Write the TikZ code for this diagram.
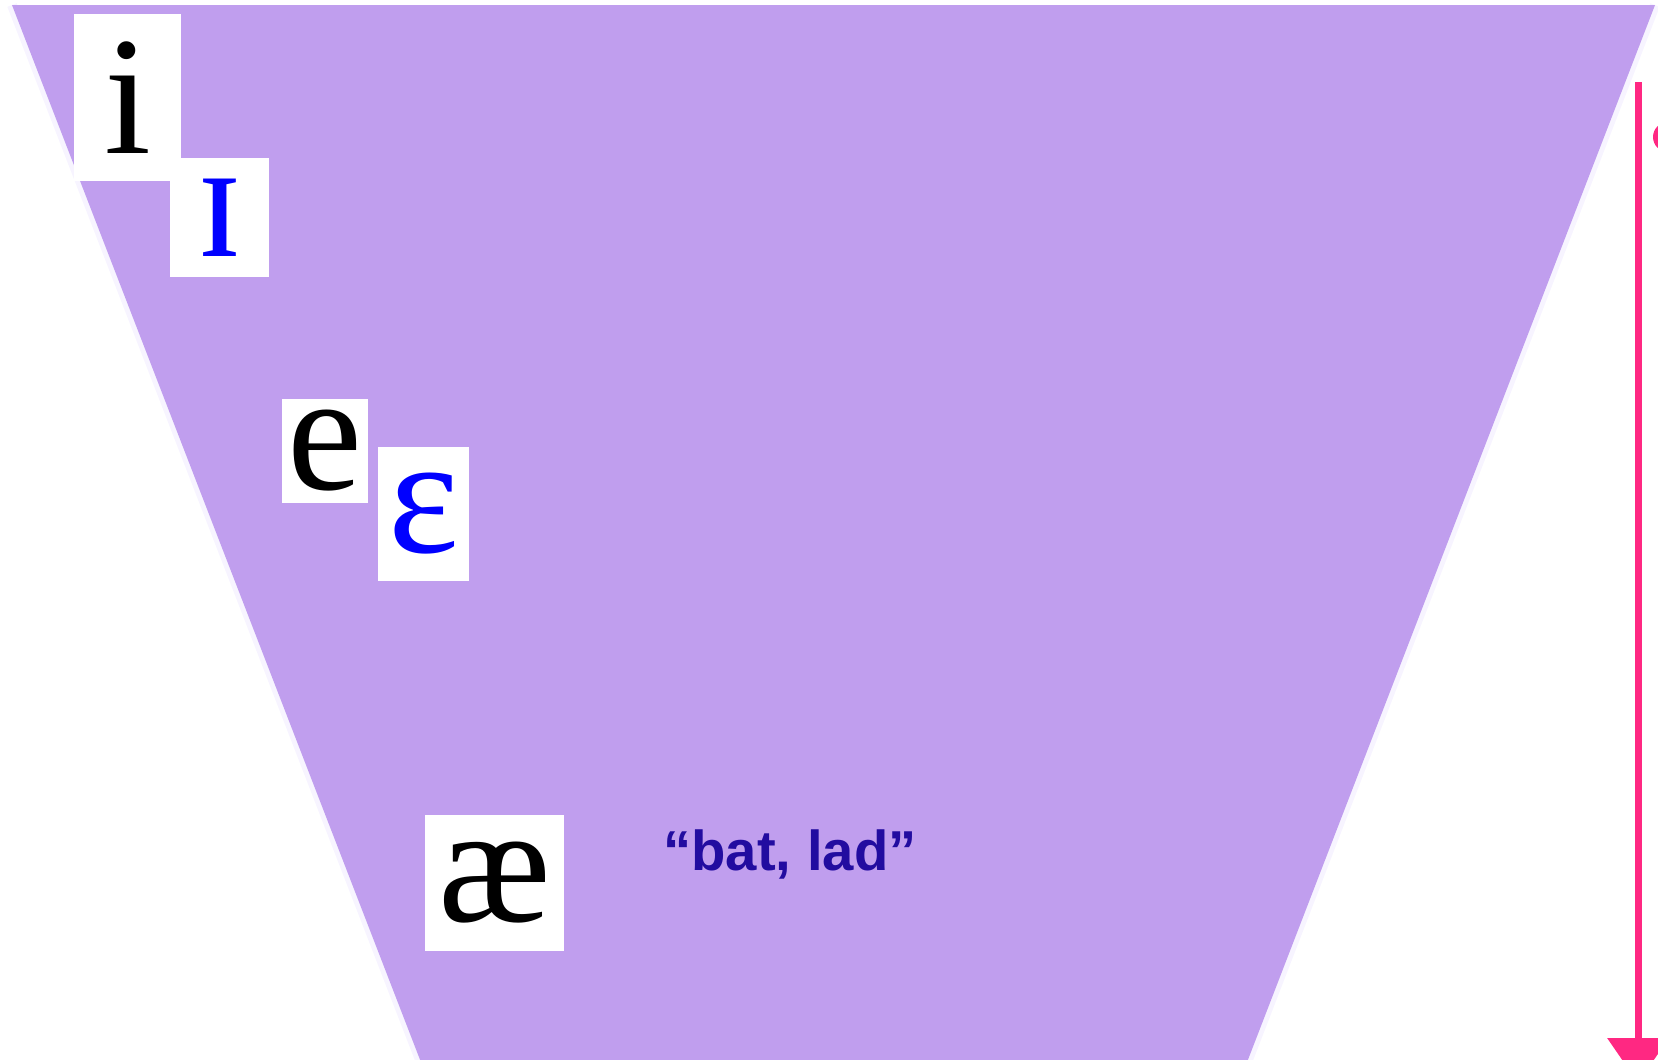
\documentclass[tikz,border=0pt]{standalone}
\usepackage{fontspec}
\setmainfont{Liberation Serif}
\newfontfamily\glossfont{Liberation Sans}
\usetikzlibrary{arrows.meta,positioning}
\definecolor{vowelpurple}{RGB}{192,158,238}
\definecolor{edgelilac}{RGB}{247,244,255}
\definecolor{glossblue}{RGB}{34,12,160}
\definecolor{ipablue}{RGB}{0,0,255}
\definecolor{brushpink}{RGB}{255,40,130}

\begin{document}
\begin{tikzpicture}[x=0.01cm, y=-0.01cm,
  symbox/.style={fill=white, inner sep=0pt, font=\fontsize{48}{48}\selectfont},
  gloss/.style={font=\glossfont\bfseries\fontsize{16}{20}\selectfont, text=glossblue, anchor=base}
]
\useasboundingbox (0,0) rectangle (1658,1059);
\clip (0,0) rectangle (1658,1059);
% Vowel space
\coordinate (tl) at (12,5);
\coordinate (tr) at (1655,5);
\coordinate (br) at (1244,1070);
\coordinate (bl) at (424,1070);
\draw[edgelilac, line width=0.1cm] (tl) -- (bl);
\draw[edgelilac, line width=0.1cm] (tr) -- (br);
\fill[vowelpurple] (tl) -- (tr) -- (br) -- (bl) -- cycle;
% Vowel symbols
\foreach \n/\x/\y/\w/\h/\c/\g in {
    close/127.5/97.5/1.07/1.67/black/i,
    nearclose/219.5/217.5/0.99/1.19/ipablue/ɪ,
    closemid/325/451/0.86/1.04/black/e,
    openmid/423.5/514/0.91/1.34/ipablue/ɛ,
    nearopen/494.5/883/1.39/1.36/black/æ} {
  \node[symbox, minimum width=\w cm, minimum height=\h cm, text=\c] (\n) at (\x,\y) {\g};
}
\node[gloss] (lad) at (790,870) {“bat, lad”};
% Height arrow
\coordinate (brushtop) at (1638,82);
\coordinate (brushtip) at (1638,1083);
\draw[brushpink, line width=0.07cm, -{Triangle[width=0.6cm,length=0.45cm]}] (brushtop) -- (brushtip);
\fill[brushpink] (1668,137) circle[radius=0.15cm];
\end{tikzpicture}
\end{document}
